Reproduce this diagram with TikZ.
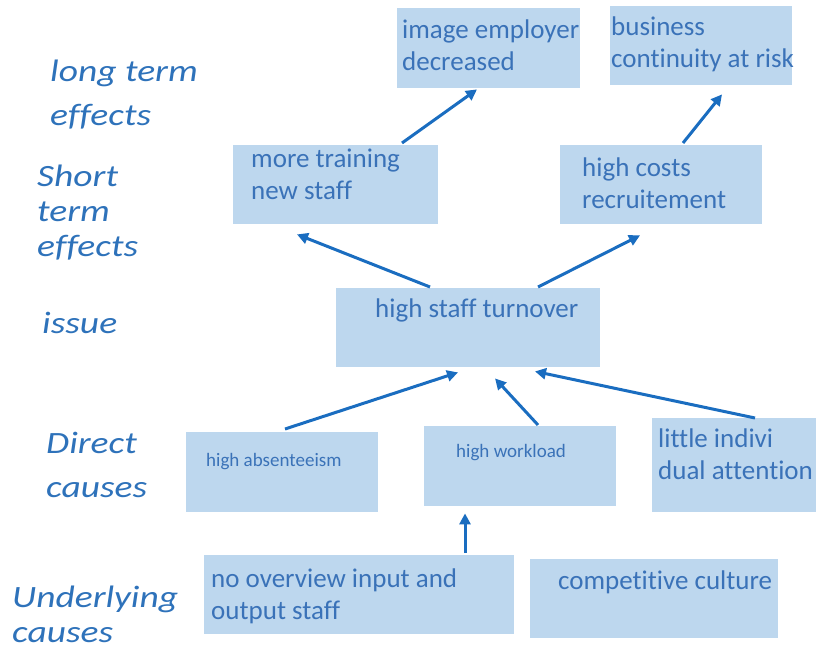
\documentclass[tikz,border=0pt]{standalone}
\usepackage{fontspec}
\usepackage{graphicx}
\setmainfont{Carlito}[Ligatures={NoCommon}]
\usetikzlibrary{arrows.meta}
\definecolor{boxblue}{HTML}{BDD7EE}
\definecolor{txtblue}{HTML}{3A72B8}
\definecolor{lblblue}{HTML}{2E72BA}
\definecolor{arrblue}{HTML}{1A6DC0}
\newcommand\twoln[2]{\vtop{\hbox{#1}\hbox{#2}}}
\newcommand\threeln[3]{\vtop{\hbox{#1}\hbox{#2}\hbox{#3}}}
\newcommand\widen[1]{\scalebox{1.21}[1]{#1}}
\tikzset{
  box/.style={fill=boxblue, draw=none, inner sep=0pt, anchor=north west},
  bigtxt/.style={text=txtblue, inner sep=0pt, anchor=base west, font=\fontsize{27}{32}\selectfont},
  smalltxt/.style={text=txtblue, inner sep=0pt, anchor=base west, font=\fontsize{19}{23}\selectfont},
  lbl/.style={text=lblblue, inner sep=0pt, anchor=base west},
  arr/.style={draw=arrblue, line width=3pt, -{Triangle[length=11pt,width=11pt]}}
}
\begin{document}
\begin{tikzpicture}[x=1pt,y=-1pt]
\useasboundingbox (0,0) rectangle (816,647);
% boxes
\node[box, minimum width=183, minimum height=80] (img) at (397,8) {};
\node[box, minimum width=182, minimum height=79] (bus) at (610,6) {};
\node[box, minimum width=205, minimum height=79] (train) at (233,145) {};
\node[box, minimum width=202, minimum height=79] (cost) at (560,145) {};
\node[box, minimum width=264, minimum height=79] (turn) at (336,288) {};
\node[box, minimum width=192, minimum height=80] (abs) at (186,432) {};
\node[box, minimum width=192, minimum height=80] (work) at (424,426) {};
\node[box, minimum width=164, minimum height=94] (little) at (652,418) {};
\node[box, minimum width=310, minimum height=79] (over) at (204,555) {};
\node[box, minimum width=248, minimum height=79] (comp) at (530,559) {};
% box texts
\node[bigtxt] (imgt) at (402,39) {\twoln{image employer}{decreased}};
\node[bigtxt] (bust) at (611,36) {\twoln{business}{continuity at risk}};
\node[bigtxt] (traint) at (251,168) {\twoln{more training}{new staff}};
\node[bigtxt] (costt) at (582,177) {\twoln{high costs}{recruitement}};
\node[bigtxt] (turnt) at (375,317) {high staff turnover};
\node[smalltxt] (abst) at (206,466) {high absenteeism};
\node[smalltxt] (workt) at (456,457) {high workload};
\node[bigtxt] (littlet) at (658,447) {\twoln{little indivi}{dual attention}};
\node[bigtxt] (overt) at (211,587) {\twoln{no overview input and}{output staff}};
\node[bigtxt] (compt) at (558,589) {competitive culture};
% side labels
\node[lbl, font=\itshape\fontsize{31}{44}\selectfont] (l1) at (50,82) {\widen{\twoln{long term}{effects}}};
\node[lbl, font=\itshape\fontsize{31}{35}\selectfont] (l2) at (37,187) {\widen{\threeln{Short}{term}{effects}}};
\node[lbl, font=\itshape\fontsize{31}{35}\selectfont] (l3) at (42,333) {\widen{issue}};
\node[lbl, font=\itshape\fontsize{31}{44}\selectfont] (l4) at (46,453) {\widen{\twoln{Direct}{causes}}};
\node[lbl, font=\itshape\fontsize{31}{35}\selectfont] (l5) at (12,607) {\widen{\twoln{Underlying}{causes}}};
% arrows
\draw[arr] ([xshift=169pt,yshift=2pt]train.north west) -- ([xshift=80pt,yshift=-1pt]img.south west);
\draw[arr] ([xshift=123pt,yshift=2pt]cost.north west) -- ([xshift=112pt,yshift=-9pt]bus.south west);
\draw[arr] ([xshift=94pt,yshift=1pt]turn.north west) -- ([xshift=64pt,yshift=-10pt]train.south west);
\draw[arr] ([xshift=202pt,yshift=1pt]turn.north west) -- ([xshift=80pt,yshift=-11pt]cost.south west);
\draw[arr] ([xshift=99pt,yshift=3pt]abs.north west) -- ([xshift=122pt,yshift=-5pt]turn.south west);
\draw[arr] ([xshift=114pt,yshift=1pt]work.north west) -- ([xshift=159pt,yshift=-11pt]turn.south west);
\draw[arr] ([xshift=103pt,yshift=0pt]little.north west) -- ([xshift=199pt,yshift=-4pt]turn.south west);
\draw[arr] ([xshift=261pt,yshift=2pt]over.north west) -- ([xshift=41pt,yshift=-7pt]work.south west);
\end{tikzpicture}
\end{document}
